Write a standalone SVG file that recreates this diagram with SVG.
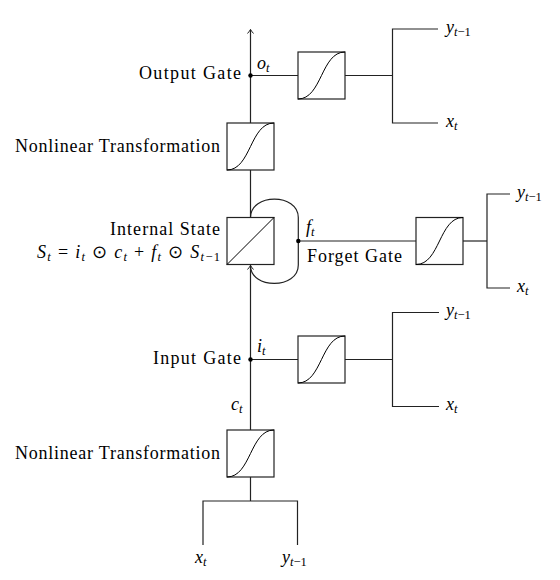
<svg xmlns="http://www.w3.org/2000/svg" width="560" height="580" viewBox="0 0 560 580">
<style>
.ln{stroke:#222;stroke-width:1.2;fill:none}
.box{fill:#fff;stroke:#222;stroke-width:1.2}
.sig{fill:none;stroke:#000;stroke-width:1}
.lbl{font-size:18px;fill:#000}
.m{font-style:italic;font-size:18px;fill:#000}
.sub{font-size:12.5px}
.up{font-style:normal}
</style>
<defs>
<marker id="arr" markerUnits="userSpaceOnUse" viewBox="-6 -5 8 10" markerWidth="8" markerHeight="10" refX="0" refY="0" orient="auto">
<path d="M-4 -3 Q-1.2 -0.6 0 0 Q-1.2 0.6 -4 3" fill="none" stroke="#222" stroke-width="1"/>
</marker>
<path id="sigc" d="M0 47 C24 47 23 0 47 0"/>
</defs>
<rect width="560" height="580" fill="#fff"/>
<g id="connectors">
<line class="ln" x1="250.5" y1="501" x2="250.5" y2="29.5" marker-end="url(#arr)"/>
<line class="ln" x1="250.5" y1="75.5" x2="298" y2="75.5"/>
<line class="ln" x1="345" y1="75.5" x2="392.5" y2="75.5"/>
<polyline class="ln" points="438,29 392.5,29 392.5,123 438,123"/>
<path class="ln" d="M250.5 217.5 C250.5 193 298.3 193 298.3 217.5 L298.3 265 C298.3 289.5 250.5 289.5 250.5 265.5" marker-end="url(#arr)"/>
<line class="ln" x1="298.3" y1="241" x2="416" y2="241"/>
<line class="ln" x1="463" y1="241" x2="487" y2="241"/>
<polyline class="ln" points="510,194 487,194 487,288 510,288"/>
<line class="ln" x1="250.5" y1="359.5" x2="298" y2="359.5"/>
<line class="ln" x1="345" y1="359.5" x2="392.5" y2="359.5"/>
<polyline class="ln" points="439,312.5 392.5,312.5 392.5,406.5 439,406.5"/>
<polyline class="ln" points="203,545 203,501 297.5,501 297.5,545"/>
</g>
<g id="output-gate">
<circle cx="250.5" cy="75.5" r="2.2" fill="#000"/>
<text font-family="Liberation Serif" class="lbl" x="241" y="79" text-anchor="end" textLength="102" lengthAdjust="spacing">Output Gate</text>
<text font-family="Liberation Serif" class="m" x="257" y="69">o<tspan class="sub" dy="3">t</tspan></text>
<rect class="box" x="298" y="52" width="47" height="47"/>
<use href="#sigc" class="sig" x="298" y="52"/>
<text font-family="Liberation Serif" class="m" x="446" y="33">y<tspan class="sub" dy="3">t</tspan><tspan class="sub up">−1</tspan></text>
<text font-family="Liberation Serif" class="m" x="446" y="127">x<tspan class="sub" dy="3">t</tspan></text>
</g>
<g id="nonlinear-top">
<rect class="box" x="227" y="123" width="47" height="47"/>
<use href="#sigc" class="sig" x="227" y="123"/>
<text font-family="Liberation Serif" class="lbl" x="220" y="152" text-anchor="end" textLength="205" lengthAdjust="spacing">Nonlinear Transformation</text>
</g>
<g id="internal-state">
<rect class="box" x="227" y="217.5" width="47" height="47"/>
<line class="sig" x1="227" y1="264.5" x2="274" y2="217.5"/>
<text font-family="Liberation Serif" class="lbl" x="220" y="235" text-anchor="end" textLength="110" lengthAdjust="spacing">Internal State</text>
<text font-family="Liberation Serif" class="m" x="220" y="258" text-anchor="end" textLength="183" lengthAdjust="spacing">S<tspan class="sub" dy="3">t</tspan><tspan class="up" dy="-3"> = </tspan>i<tspan class="sub" dy="3">t</tspan><tspan class="up" dy="-3"> ⊙ </tspan>c<tspan class="sub" dy="3">t</tspan><tspan class="up" dy="-3"> + </tspan>f<tspan class="sub" dy="3">t</tspan><tspan class="up" dy="-3"> ⊙ </tspan>S<tspan class="sub" dy="3">t</tspan><tspan class="sub up">−1</tspan></text>
</g>
<g id="forget-gate">
<circle cx="298.3" cy="241" r="2.2" fill="#000"/>
<text font-family="Liberation Serif" class="m" x="306" y="233">f<tspan class="sub" dy="3">t</tspan></text>
<text font-family="Liberation Serif" class="lbl" x="307" y="262" textLength="95" lengthAdjust="spacing">Forget Gate</text>
<rect class="box" x="416" y="217.5" width="47" height="47"/>
<use href="#sigc" class="sig" x="416" y="217.5"/>
<text font-family="Liberation Serif" class="m" x="517" y="198">y<tspan class="sub" dy="3">t</tspan><tspan class="sub up">−1</tspan></text>
<text font-family="Liberation Serif" class="m" x="517" y="292">x<tspan class="sub" dy="3">t</tspan></text>
</g>
<g id="input-gate">
<circle cx="250.5" cy="359.5" r="2.2" fill="#000"/>
<text font-family="Liberation Serif" class="lbl" x="241" y="364" text-anchor="end" textLength="88" lengthAdjust="spacing">Input Gate</text>
<text font-family="Liberation Serif" class="m" x="257" y="352">i<tspan class="sub" dy="3">t</tspan></text>
<rect class="box" x="298" y="336" width="47" height="47"/>
<use href="#sigc" class="sig" x="298" y="336"/>
<text font-family="Liberation Serif" class="m" x="446" y="316">y<tspan class="sub" dy="3">t</tspan><tspan class="sub up">−1</tspan></text>
<text font-family="Liberation Serif" class="m" x="446" y="410">x<tspan class="sub" dy="3">t</tspan></text>
</g>
<g id="nonlinear-bottom">
<text font-family="Liberation Serif" class="m" x="231" y="410">c<tspan class="sub" dy="3">t</tspan></text>
<rect class="box" x="227" y="430" width="47" height="47"/>
<use href="#sigc" class="sig" x="227" y="430"/>
<text font-family="Liberation Serif" class="lbl" x="220" y="459" text-anchor="end" textLength="205" lengthAdjust="spacing">Nonlinear Transformation</text>
</g>
<g id="inputs">
<text font-family="Liberation Serif" class="m" x="195" y="563">x<tspan class="sub" dy="3">t</tspan></text>
<text font-family="Liberation Serif" class="m" x="282" y="563">y<tspan class="sub" dy="3">t</tspan><tspan class="sub up">−1</tspan></text>
</g>
</svg>
